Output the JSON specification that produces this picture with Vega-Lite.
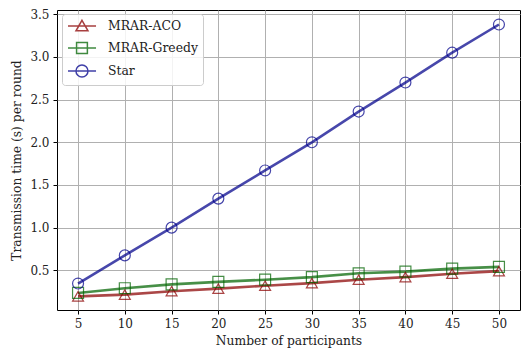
{
  "$schema": "https://vega.github.io/schema/vega-lite/v6.json",
  "width": 463,
  "height": 300,
  "autosize": {"type": "none"},
  "padding": {"left": 57, "top": 10, "right": 9, "bottom": 49},
  "config": {
    "font": "DejaVu Serif",
    "view": {"stroke": "black", "strokeWidth": 1},
    "axis": {
      "labelFont": "DejaVu Serif", "titleFont": "DejaVu Serif",
      "labelFontSize": 12, "titleFontSize": 12.3, "titleFontWeight": "normal",
      "labelColor": "#222", "titleColor": "#222",
      "domain": false, "tickColor": "black", "tickSize": 4,
      "gridColor": "#b0b0b0", "gridWidth": 1
    }
  },
  "data": {"values": [
    {"n": 5, "series": "MRAR-ACO", "t": 0.195},
    {"n": 10, "series": "MRAR-ACO", "t": 0.215},
    {"n": 15, "series": "MRAR-ACO", "t": 0.255},
    {"n": 20, "series": "MRAR-ACO", "t": 0.285},
    {"n": 25, "series": "MRAR-ACO", "t": 0.32},
    {"n": 30, "series": "MRAR-ACO", "t": 0.35},
    {"n": 35, "series": "MRAR-ACO", "t": 0.39},
    {"n": 40, "series": "MRAR-ACO", "t": 0.42},
    {"n": 45, "series": "MRAR-ACO", "t": 0.46},
    {"n": 50, "series": "MRAR-ACO", "t": 0.49},
    {"n": 5, "series": "MRAR-Greedy", "t": 0.235},
    {"n": 10, "series": "MRAR-Greedy", "t": 0.29},
    {"n": 15, "series": "MRAR-Greedy", "t": 0.335},
    {"n": 20, "series": "MRAR-Greedy", "t": 0.365},
    {"n": 25, "series": "MRAR-Greedy", "t": 0.39},
    {"n": 30, "series": "MRAR-Greedy", "t": 0.42},
    {"n": 35, "series": "MRAR-Greedy", "t": 0.465},
    {"n": 40, "series": "MRAR-Greedy", "t": 0.485},
    {"n": 45, "series": "MRAR-Greedy", "t": 0.52},
    {"n": 50, "series": "MRAR-Greedy", "t": 0.54},
    {"n": 5, "series": "Star", "t": 0.345},
    {"n": 10, "series": "Star", "t": 0.675},
    {"n": 15, "series": "Star", "t": 1.0},
    {"n": 20, "series": "Star", "t": 1.34},
    {"n": 25, "series": "Star", "t": 1.67},
    {"n": 30, "series": "Star", "t": 2.0},
    {"n": 35, "series": "Star", "t": 2.36},
    {"n": 40, "series": "Star", "t": 2.7},
    {"n": 45, "series": "Star", "t": 3.05},
    {"n": 50, "series": "Star", "t": 3.38}
  ]},
  "encoding": {
    "x": {"field": "n", "type": "quantitative",
      "scale": {"domain": [2.75, 52.25], "nice": false, "zero": false},
      "axis": {"values": [5,10,15,20,25,30,35,40,45,50], "title": "Number of participants", "titlePadding": 5, "labelPadding": 4}},
    "y": {"field": "t", "type": "quantitative",
      "scale": {"domain": [0.035, 3.55], "nice": false, "zero": false},
      "axis": {"values": [0.5,1.0,1.5,2.0,2.5,3.0,3.5], "format": ".1f", "title": "Transmission time (s) per round", "titlePadding": 6, "labelPadding": 4}},
    "color": {"field": "series", "type": "nominal",
      "scale": {"domain": ["MRAR-ACO", "MRAR-Greedy", "Star"], "range": ["#8b0000", "#006400", "#00008b"]},
      "legend": {
        "title": null, "orient": "none", "legendX": 5, "legendY": 4,
        "symbolSize": 144, "symbolStrokeWidth": 1.5, "symbolFillColor": "transparent", "symbolOpacity": 0.75,
        "labelFont": "DejaVu Serif", "labelFontSize": 12.4, "labelColor": "#222", "labelOffset": 27,
        "rowPadding": 5, "padding": 5,
        "strokeColor": "#cccccc", "fillColor": "rgba(255,255,255,0.85)", "cornerRadius": 3,
        "encode": {"symbols": {"update": {
          "shape": {"signal": "datum.value === 'MRAR-ACO' ? 'M-1,0L3.67,0M1.33,-0.95L2.33,0.8L0.33,0.8Z' : datum.value === 'MRAR-Greedy' ? 'M-1,0L3.67,0M0.43,-0.9L2.23,-0.9L2.23,0.9L0.43,0.9Z' : 'M-1,0L3.67,0M2.33,0A1,1 0 1 1 0.33,0A1,1 0 1 1 2.33,0Z'"},
          "fill": {"value": "transparent"},
          "strokeWidth": {"value": 1.5},
          "opacity": {"value": 0.75}
        }}}
      }
    }
  },
  "layer": [
    {
      "mark": {"type": "line", "strokeWidth": 2.6, "opacity": 0.72}
    },
    {
      "mark": {"type": "point", "filled": false, "size": 120, "strokeWidth": 1.2, "opacity": 0.72},
      "encoding": {
        "shape": {"field": "series", "type": "nominal", "legend": null,
          "scale": {"domain": ["MRAR-ACO", "MRAR-Greedy", "Star"], "range": ["triangle-up", "square", "circle"]}}
      }
    }
  ],
  "resolve": {"scale": {"shape": "independent"}, "legend": {"shape": "independent"}}
}
